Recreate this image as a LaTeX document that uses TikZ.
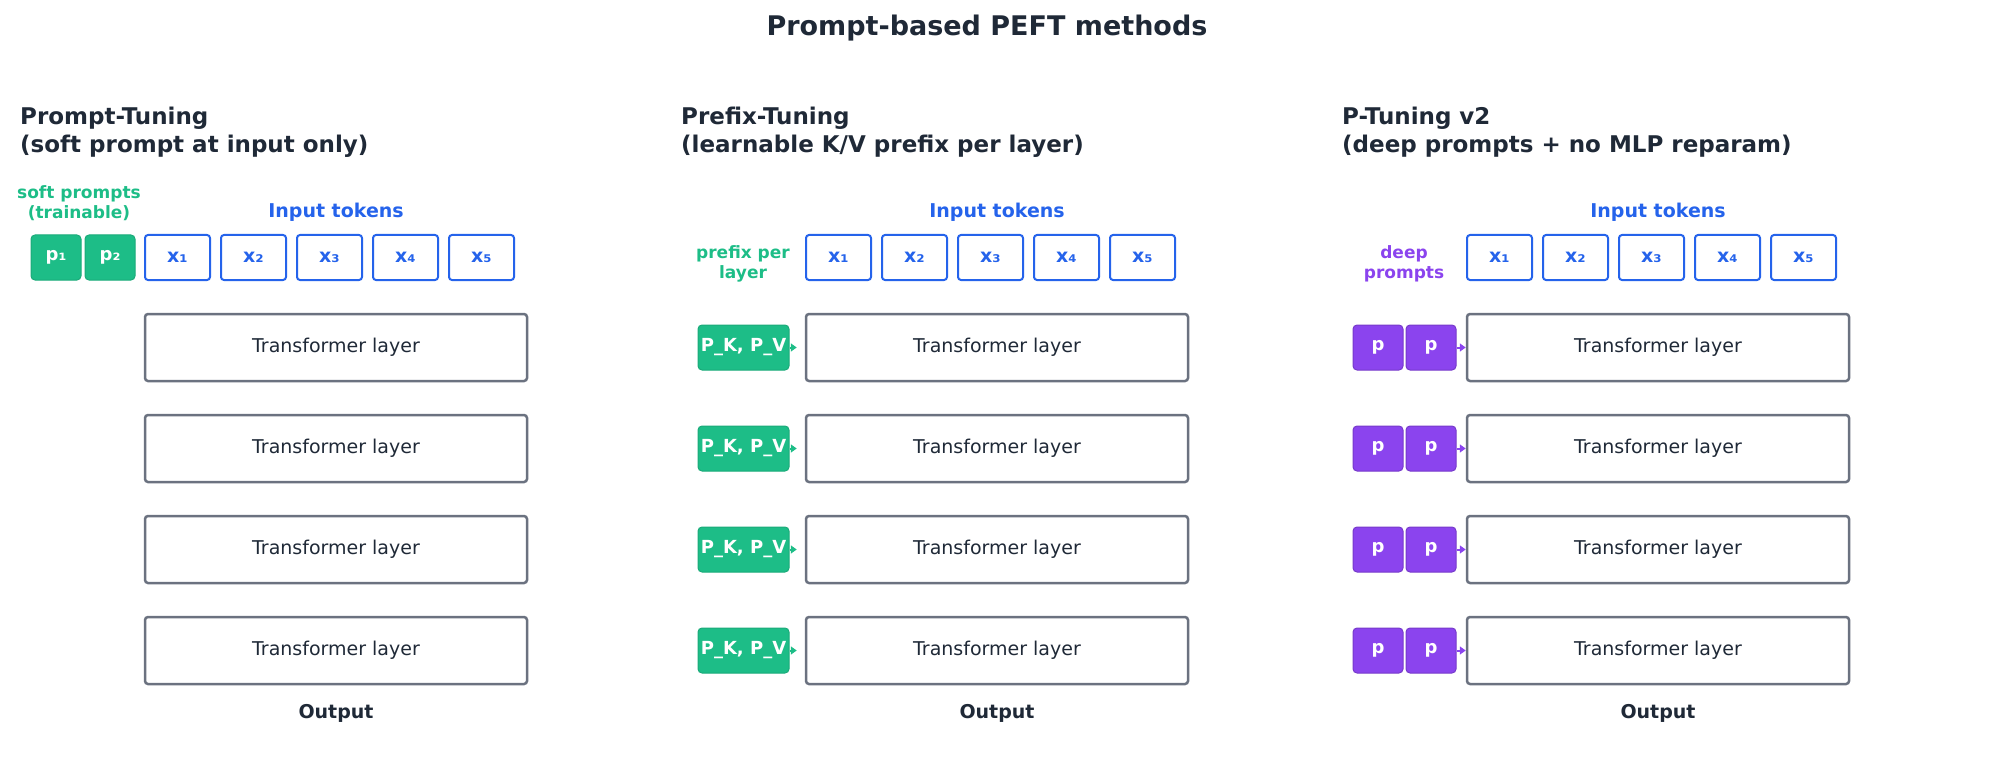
\documentclass[tikz,border=0pt]{standalone}
\usepackage{fontspec}
\setmainfont{DejaVu Sans}
\usetikzlibrary{arrows.meta}
\definecolor{cgreen}{HTML}{1DBD87}
\definecolor{cblue}{HTML}{2563EB}
\definecolor{cpurp}{HTML}{8B44EE}
\definecolor{cgray}{HTML}{6B7280}
\definecolor{cdark}{HTML}{1F2937}
\tikzset{
  tok/.style={draw=cblue,line width=2pt,rounded corners=3pt,minimum width=65pt,minimum height=45pt,text=cblue,font=\fontsize{19}{22}\selectfont\bfseries,inner sep=0pt},
  layerbox/.style={draw=cgray,line width=2.5pt,rounded corners=3pt,minimum width=382pt,minimum height=67pt,text=cdark,font=\fontsize{19}{22}\selectfont,inner sep=0pt},
  gbox/.style={fill=cgreen,draw=cgreen!90!black,line width=1pt,rounded corners=4pt,minimum height=45pt,text=white,font=\fontsize{18}{22}\selectfont\bfseries,inner sep=0pt},
  pbox/.style={fill=cpurp,draw=cpurp!85!black,line width=1pt,rounded corners=4pt,minimum width=50pt,minimum height=45pt,text=white,font=\fontsize{18}{22}\selectfont\bfseries,inner sep=0pt},
  head/.style={anchor=west,align=left,text=cdark,font=\fontsize{23}{28}\selectfont\bfseries,inner sep=0pt},
  lab/.style={align=center,font=\fontsize{17}{20}\selectfont\bfseries,inner sep=0pt},
  intok/.style={text=cblue,font=\fontsize{19}{22}\selectfont\bfseries,inner sep=0pt},
  outl/.style={text=cdark,font=\fontsize{19}{22}\selectfont\bfseries,inner sep=0pt},
  arr/.style={-{Triangle[length=6pt,width=8pt]},line width=2pt}
}
\begin{document}
\begin{tikzpicture}[x=1pt,y=-1pt]
\useasboundingbox (0,0) rectangle (1989,770);
\node[text=cdark,font=\fontsize{27}{32}\selectfont\bfseries] (title) at (987,28) {Prompt-based PEFT methods};
% panel 1
\node[head] (h1) at (20,132) {Prompt-Tuning\\(soft prompt at input only)};
\node[lab,text=cgreen] (l1) at (79,203) {soft prompts\\(trainable)};
\node[intok] (it1) at (336,212) {Input tokens};
\node[gbox,minimum width=50pt] (p1) at (56,257.5) {p₁};
\node[gbox,minimum width=50pt] (p2) at (110,257.5) {p₂};
\foreach \i/\s in {1/₁,2/₂,3/₃,4/₄,5/₅}{
  \node[tok] (a\i) at ({177.5+76*(\i-1)},257.5) {x\s};
}
\foreach \j/\y in {1/347.5,2/448.5,3/549.5,4/650.5}{
  \node[layerbox] (aL\j) at (336,\y) {Transformer layer};
}
\node[outl] (o1) at (336,713) {Output};
% panel 2
\node[head] (h2) at (681,132) {Prefix-Tuning\\(learnable K/V prefix per layer)};
\node[lab,text=cgreen] (l2) at (743,264) {prefix per\\layer};
\node[intok] (it2) at (997,212) {Input tokens};
\foreach \i/\s in {1/₁,2/₂,3/₃,4/₄,5/₅}{
  \node[tok] (b\i) at ({838.5+76*(\i-1)},257.5) {x\s};
}
\foreach \j/\y in {1/347.5,2/448.5,3/549.5,4/650.5}{
  \node[layerbox] (bL\j) at (997,\y) {Transformer layer};
  \node[gbox,minimum width=91pt] (bP\j) at (743.5,\y) {P\_K, P\_V};
  \draw[arr,cgreen] (bP\j.east) -- ([xshift=-8pt]bL\j.west);
}
\node[outl] (o2) at (997,713) {Output};
% panel 3
\node[head] (h3) at (1342,132) {P-Tuning v2\\(deep prompts + no MLP reparam)};
\node[lab,text=cpurp] (l3) at (1404,264) {deep\\prompts};
\node[intok] (it3) at (1658,212) {Input tokens};
\foreach \i/\s in {1/₁,2/₂,3/₃,4/₄,5/₅}{
  \node[tok] (c\i) at ({1499.5+76*(\i-1)},257.5) {x\s};
}
\foreach \j/\y in {1/347.5,2/448.5,3/549.5,4/650.5}{
  \node[layerbox] (cL\j) at (1658,\y) {Transformer layer};
  \node[pbox] (cA\j) at (1378,\y) {p};
  \node[pbox] (cB\j) at (1431,\y) {p};
  \draw[arr,cpurp] (cB\j.east) -- (cL\j.west);
}
\node[outl] (o3) at (1658,713) {Output};
\end{tikzpicture}
\end{document}
